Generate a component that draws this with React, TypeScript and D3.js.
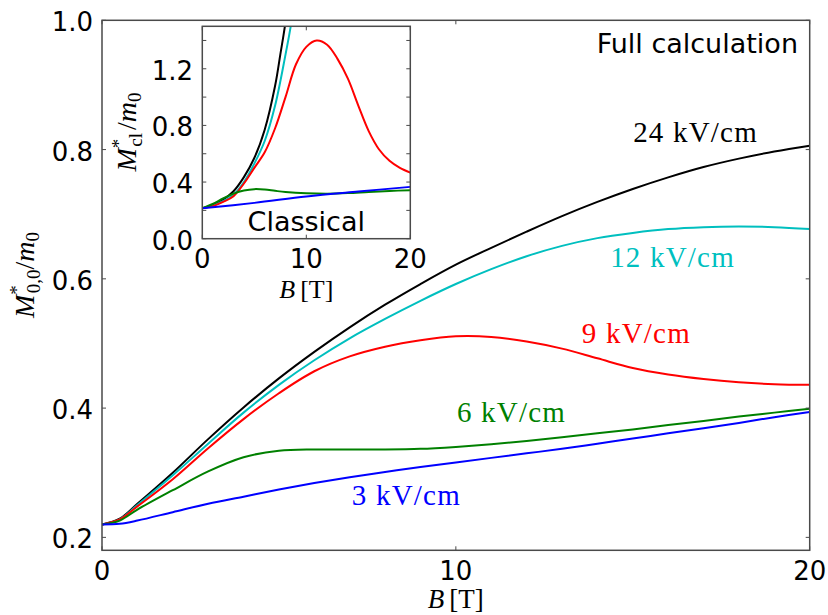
import React from "react";
import * as d3 from "d3";

// ---------- DATA ----------
const bGrid = [0, 0.5, 1, 2, 3, 4, 5, 6, 7, 8, 9, 10, 11, 12, 13, 14, 15, 16, 17, 18, 19, 20];

const full24 = [0.22, 0.229, 0.252, 0.3, 0.352, 0.401, 0.446, 0.487, 0.525, 0.56, 0.592, 0.622, 0.648, 0.673, 0.697, 0.719, 0.739, 0.757, 0.773, 0.786, 0.797, 0.806];
const full12 = [0.22, 0.228, 0.25, 0.296, 0.345, 0.393, 0.436, 0.474, 0.508, 0.538, 0.566, 0.592, 0.615, 0.635, 0.651, 0.663, 0.671, 0.677, 0.68, 0.681, 0.68, 0.677];
const full9 = [0.22, 0.228, 0.248, 0.29, 0.338, 0.383, 0.423, 0.457, 0.48, 0.495, 0.505, 0.511, 0.51, 0.503, 0.492, 0.477, 0.462, 0.452, 0.445, 0.44, 0.437, 0.436];
const full6 = [0.22, 0.226, 0.243, 0.273, 0.302, 0.324, 0.334, 0.336, 0.336, 0.336, 0.337, 0.34, 0.344, 0.349, 0.355, 0.361, 0.367, 0.374, 0.38, 0.387, 0.393, 0.399];
const full3 = [0.22, 0.221, 0.226, 0.239, 0.252, 0.263, 0.274, 0.284, 0.293, 0.301, 0.309, 0.316, 0.323, 0.33, 0.337, 0.345, 0.353, 0.361, 0.369, 0.377, 0.386, 0.394];

const clB24 = [0, 1, 2, 3, 4, 5, 6, 7, 7.5, 8, 8.5];
const cl24 = [0.215, 0.235, 0.275, 0.335, 0.435, 0.57, 0.77, 1.08, 1.3, 1.53, 1.85];
const clB12 = [0, 1, 2, 3, 4, 5, 6, 7, 8, 8.5, 9];
const cl12 = [0.215, 0.232, 0.265, 0.31, 0.4, 0.53, 0.69, 0.94, 1.3, 1.5, 1.75];
const clB9 = [0, 1, 2, 3, 4, 5, 6, 7, 8, 9, 10, 11, 12, 13, 14, 15, 16, 17, 18, 19, 20];
const cl9 = [0.215, 0.23, 0.26, 0.3, 0.39, 0.5, 0.61, 0.78, 1.0, 1.23, 1.355, 1.4, 1.37, 1.27, 1.13, 0.94, 0.76, 0.63, 0.55, 0.5, 0.467];
const clB6 = [0, 1, 2, 3, 4, 5, 6, 7, 8, 10, 12, 14, 16, 18, 20];
const cl6 = [0.215, 0.245, 0.285, 0.318, 0.34, 0.35, 0.347, 0.338, 0.33, 0.321, 0.318, 0.322, 0.33, 0.337, 0.343];
const clB3 = [0, 5, 10, 15, 20];
const cl3 = [0.215, 0.253, 0.298, 0.333, 0.366];

const mainXTicks = [0, 10, 20];
const mainYTicks = [0.2, 0.4, 0.6, 0.8, 1.0];
const insetXTicks = [0, 10, 20];
const insetYTicks = [0, 0.2, 0.4, 0.6, 0.8, 1.0, 1.2, 1.4];
const insetYLabels = [0, 0.4, 0.8, 1.2];

const seriesNames = ["24 kV/cm", "12 kV/cm", "9 kV/cm", "6 kV/cm", "3 kV/cm"];

// ---------- STYLE / LAYOUT ----------
const colors = ["#000000", "#00bfbf", "#ff0000", "#008000", "#0000ff"];
const labelAnchors: [number, number][] = [
  [15.01, 0.811],
  [14.36, 0.618],
  [13.56, 0.5],
  [10.03, 0.379],
  [7.06, 0.25],
];

const W = 828;
const H = 615;
const main = { l: 102, r: 809.7, t: 20.3, b: 550.3 };
const ins = { l: 202.3, r: 410.3, t: 26.3, b: 238.7 };
const spine = "#4a4a4a";
const sans = "'DejaVu Sans', sans-serif";
const serif = "'Liberation Serif', 'DejaVu Serif', serif";

export default function App() {
  const x = d3.scaleLinear().domain([0, 20]).range([main.l, main.r]);
  const y = d3.scaleLinear().domain([0.18, 1.0]).range([main.b, main.t]);
  const xi = d3.scaleLinear().domain([0, 20]).range([ins.l, ins.r]);
  const yi = d3.scaleLinear().domain([0, 1.5]).range([ins.b, ins.t]);

  const mainLine = d3
    .line<[number, number]>()
    .x((d) => x(d[0]))
    .y((d) => y(d[1]))
    .curve(d3.curveCatmullRom.alpha(0.5));
  const insetLine = d3
    .line<[number, number]>()
    .x((d) => xi(d[0]))
    .y((d) => yi(d[1]))
    .curve(d3.curveCatmullRom.alpha(0.5));

  const fullSeries = [full24, full12, full9, full6, full3];
  const clSeries: [number[], number[]][] = [
    [clB24, cl24],
    [clB12, cl12],
    [clB9, cl9],
    [clB6, cl6],
    [clB3, cl3],
  ];

  const tl = 4;

  return (
    <svg
      width={W}
      height={H}
      style={{ position: "absolute", left: 0, top: 0, background: "#fff" }}
    >
      <defs>
        <clipPath id="clipMain">
          <rect x={main.l} y={main.t} width={main.r - main.l} height={main.b - main.t} />
        </clipPath>
        <clipPath id="clipInset">
          <rect x={ins.l} y={ins.t} width={ins.r - ins.l} height={ins.b - ins.t} />
        </clipPath>
      </defs>
      <rect x={0} y={0} width={W} height={H} fill="#fff" />

      {/* main curves */}
      <g clipPath="url(#clipMain)">
        {fullSeries.map((s, i) => (
          <path
            key={i}
            d={mainLine(bGrid.map((b, j) => [b, s[j]] as [number, number])) || ""}
            fill="none"
            stroke={colors[i]}
            strokeWidth={2}
          />
        ))}
      </g>

      {/* main ticks */}
      {mainXTicks.map((t) => (
        <g key={"mx" + t}>
          <line x1={x(t)} x2={x(t)} y1={main.b} y2={main.b - tl} stroke={spine} />
          <line x1={x(t)} x2={x(t)} y1={main.t} y2={main.t + tl} stroke={spine} />
          <text x={x(t)} y={580} textAnchor="middle" fontFamily={sans} fontSize={26} fill="#000">
            {t}
          </text>
        </g>
      ))}
      {mainYTicks.map((t) => (
        <g key={"my" + t}>
          <line x1={main.l} x2={main.l + tl} y1={y(t)} y2={y(t)} stroke={spine} />
          <line x1={main.r} x2={main.r - tl} y1={y(t)} y2={y(t)} stroke={spine} />
          <text
            x={93}
            y={y(t) + 2}
            textAnchor="end"
            dominantBaseline="central"
            fontFamily={sans}
            fontSize={26}
            fill="#000"
          >
            {t.toFixed(1)}
          </text>
        </g>
      ))}
      <rect
        x={main.l}
        y={main.t}
        width={main.r - main.l}
        height={main.b - main.t}
        fill="none"
        stroke={spine}
        strokeWidth={1.5}
      />

      {/* series labels */}
      {seriesNames.map((n, i) => (
        <text
          key={n}
          x={x(labelAnchors[i][0])}
          y={y(labelAnchors[i][1])}
          fontFamily={serif}
          fontSize={29}
          letterSpacing={1.2}
          fill={colors[i]}
        >
          {n}
        </text>
      ))}

      <text x={798} y={52.7} textAnchor="end" fontFamily={sans} fontSize={27} fill="#000">
        Full calculation
      </text>

      {/* main x label */}
      <text x={x(10)} y={608} textAnchor="middle" fontFamily={serif} fontSize={27} fill="#000">
        <tspan fontStyle="italic">B</tspan>
        <tspan dx={5}>[T]</tspan>
      </text>
      {/* main y label */}
      <text
        transform={`translate(34,${275}) rotate(-90)`}
        textAnchor="middle"
        fontFamily={serif}
        fontSize={28}
        fill="#000"
      >
        <tspan fontStyle="italic">M</tspan>
        <tspan fontSize={19} dy={-11}>*</tspan>
        <tspan fontSize={19} dx={-8} dy={17}>0,0</tspan>
        <tspan dy={-6}>/</tspan>
        <tspan fontStyle="italic">m</tspan>
        <tspan fontSize={19} dy={5}>0</tspan>
      </text>

      {/* inset */}
      <rect x={ins.l} y={ins.t} width={ins.r - ins.l} height={ins.b - ins.t} fill="#fff" />
      <g clipPath="url(#clipInset)">
        {clSeries.map(([bs, vs], i) => (
          <path
            key={i}
            d={insetLine(bs.map((b, j) => [b, vs[j]] as [number, number])) || ""}
            fill="none"
            stroke={colors[i]}
            strokeWidth={2}
          />
        ))}
      </g>
      {insetXTicks.map((t) => (
        <g key={"ix" + t}>
          <line x1={xi(t)} x2={xi(t)} y1={ins.b} y2={ins.b - tl} stroke={spine} />
          <line x1={xi(t)} x2={xi(t)} y1={ins.t} y2={ins.t + tl} stroke={spine} />
          <text x={xi(t)} y={268} textAnchor="middle" fontFamily={sans} fontSize={26} fill="#000">
            {t}
          </text>
        </g>
      ))}
      {insetYTicks.map((t) => (
        <g key={"iy" + t}>
          <line x1={ins.l} x2={ins.l + tl} y1={yi(t)} y2={yi(t)} stroke={spine} />
          <line x1={ins.r} x2={ins.r - tl} y1={yi(t)} y2={yi(t)} stroke={spine} />
        </g>
      ))}
      {insetYLabels.map((t) => (
        <text
          key={"iyl" + t}
          x={193}
          y={yi(t) + 2}
          textAnchor="end"
          dominantBaseline="central"
          fontFamily={sans}
          fontSize={26}
          fill="#000"
        >
          {t.toFixed(1)}
        </text>
      ))}
      <rect
        x={ins.l}
        y={ins.t}
        width={ins.r - ins.l}
        height={ins.b - ins.t}
        fill="none"
        stroke={spine}
        strokeWidth={1.5}
      />
      <text x={xi(10)} y={230.7} textAnchor="middle" fontFamily={sans} fontSize={27} fill="#000">
        Classical
      </text>
      <text x={xi(10)} y={298} textAnchor="middle" fontFamily={serif} fontSize={26} fill="#000">
        <tspan fontStyle="italic">B</tspan>
        <tspan dx={5}>[T]</tspan>
      </text>
      <text
        transform={`translate(136,${132}) rotate(-90)`}
        textAnchor="middle"
        fontFamily={serif}
        fontSize={28}
        fill="#000"
      >
        <tspan fontStyle="italic">M</tspan>
        <tspan fontSize={19} dy={-11}>*</tspan>
        <tspan fontSize={19} dx={-8} dy={17}>cl</tspan>
        <tspan dy={-6} dx={3}>/</tspan>
        <tspan fontStyle="italic">m</tspan>
        <tspan fontSize={19} dy={5}>0</tspan>
      </text>
    </svg>
  );
}
